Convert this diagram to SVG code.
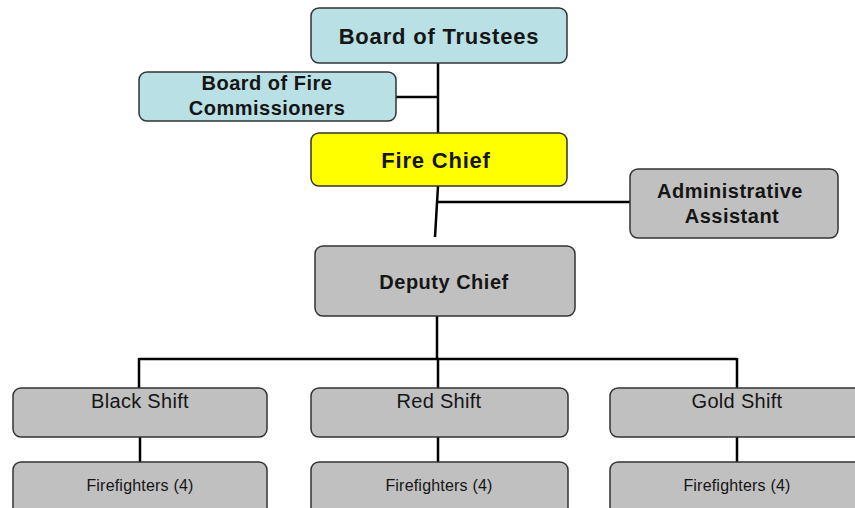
<svg xmlns="http://www.w3.org/2000/svg" width="855" height="508" viewBox="0 0 855 508">
<style>
.box{stroke:#333;stroke-width:1.5}
.blue{fill:#b9e0e4}
.yellow{fill:#ffff00}
.gray{fill:#c0c0c0}
.ln{stroke:#000;stroke-width:2.5;fill:none}
text{font-family:"Liberation Sans",Arial,sans-serif;fill:#151515;text-anchor:middle}
.b22{font-size:22px;font-weight:bold;letter-spacing:0.8px}
.b20{font-size:20px;font-weight:bold;letter-spacing:0.5px}
.n20{font-size:20px;letter-spacing:0.3px}
.n16{font-size:16px;letter-spacing:0.2px}
</style>
<rect width="855" height="508" fill="#fff"/>
<g id="connectors">
<path class="ln" d="M438 63V133M396 97H438"/>
<path class="ln" d="M438 186L435 237M438 202H630"/>
<path class="ln" d="M437 316V359M139 359H737M139 358V388M438 358V388M737 358V388"/>
<path class="ln" d="M140 437V462M438 437V462M737 437V462"/>
</g>
<g id="trustees"><rect class="box blue" x="311" y="8" width="256" height="55" rx="8"/><text class="b22" x="439" y="44">Board of Trustees</text></g>
<g id="commissioners"><rect class="box blue" x="139" y="72" width="257" height="49" rx="8"/><text class="b20" x="267" y="90">Board of Fire</text><text class="b20" x="267" y="115">Commissioners</text></g>
<g id="firechief"><rect class="box yellow" x="311" y="133" width="256" height="53" rx="8"/><text class="b22" x="436" y="168">Fire Chief</text></g>
<g id="admin"><rect class="box gray" x="630" y="169" width="208" height="69" rx="8"/><text class="b20" x="730" y="198">Administrative</text><text class="b20" x="732" y="223">Assistant</text></g>
<g id="deputy"><rect class="box gray" x="315" y="246" width="260" height="70" rx="8"/><text class="b20" x="444" y="289">Deputy Chief</text></g>
<g id="black"><rect class="box gray" x="13" y="388" width="254" height="49" rx="8"/><text class="n20" x="140" y="408">Black Shift</text></g>
<g id="red"><rect class="box gray" x="311" y="388" width="257" height="49" rx="8"/><text class="n20" x="439" y="408">Red Shift</text></g>
<g id="gold"><rect class="box gray" x="610" y="388" width="256" height="49" rx="8"/><text class="n20" x="737" y="408">Gold Shift</text></g>
<g id="ff1"><rect class="box gray" x="13" y="462" width="254" height="56" rx="8"/><text class="n16" x="140" y="491">Firefighters (4)</text></g>
<g id="ff2"><rect class="box gray" x="311" y="462" width="257" height="56" rx="8"/><text class="n16" x="439" y="491">Firefighters (4)</text></g>
<g id="ff3"><rect class="box gray" x="610" y="462" width="256" height="56" rx="8"/><text class="n16" x="737" y="491">Firefighters (4)</text></g>
</svg>
